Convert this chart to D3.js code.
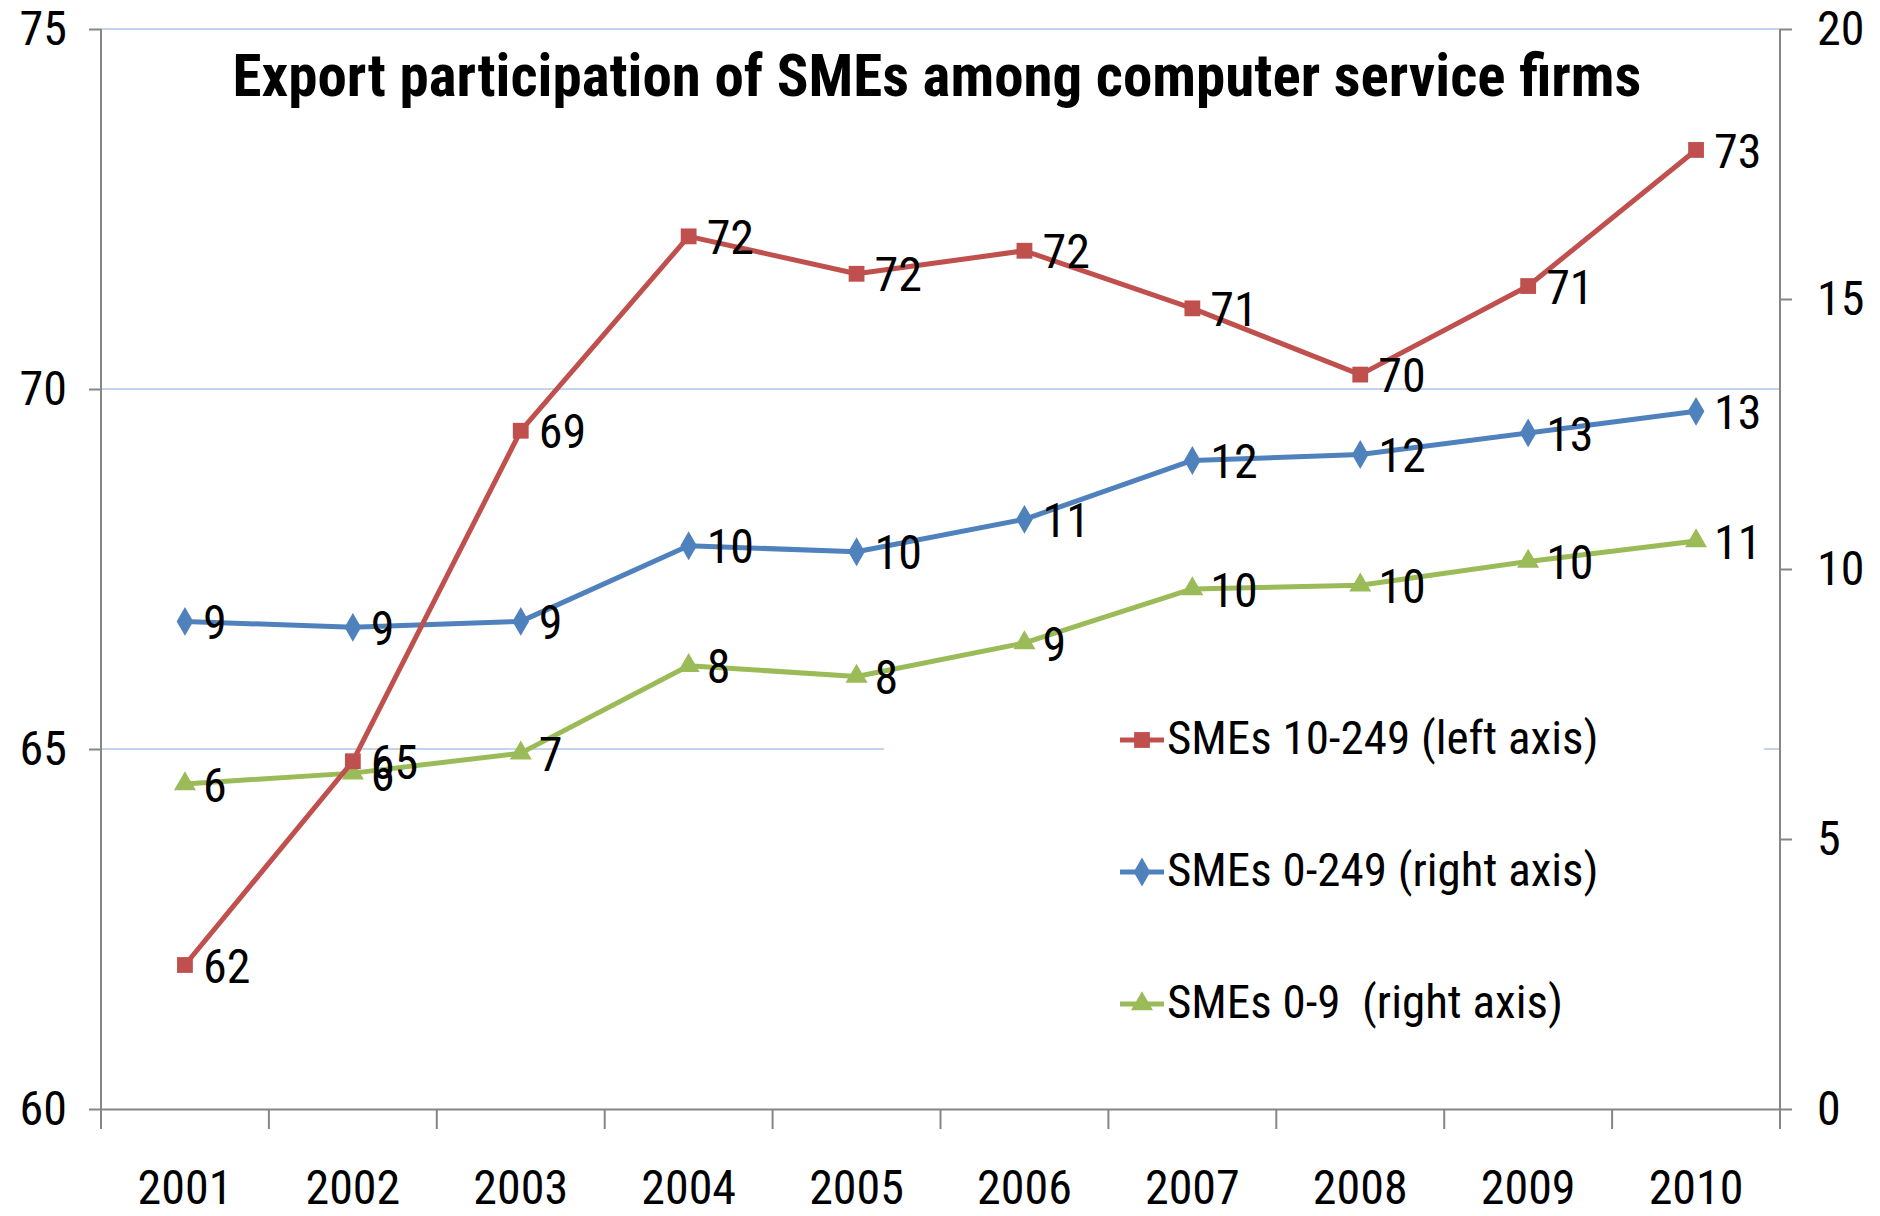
<!DOCTYPE html>
<html><head><meta charset="utf-8">
<script src="https://cdn.jsdelivr.net/npm/d3@7"></script>
<style>
html,body{margin:0;padding:0;background:#fff;}
text{font-family:"Liberation Sans Narrow","Arial Narrow","Roboto Condensed",sans-serif;}
</style></head>
<body>
<svg id="c" width="1880" height="1216"></svg>
<script>
const years = ["2001","2002","2003","2004","2005","2006","2007","2008","2009","2010"];
const sme10_249 = [62.0, 64.83, 69.42, 72.12, 71.6, 71.92, 71.12, 70.2, 71.43, 73.32];
const sme0_249 = [9.03, 8.92, 9.03, 10.43, 10.32, 10.92, 12.01, 12.12, 12.52, 12.92];
const sme0_9 = [6.02, 6.22, 6.59, 8.21, 8.01, 8.63, 9.63, 9.70, 10.14, 10.52];
const leftTicks = [60, 65, 70, 75];
const rightTicks = [0, 5, 10, 15, 20];
const seriesNames = ["SMEs 10-249 (left axis)", "SMEs 0-249 (right axis)", "SMEs 0-9  (right axis)"];
const title = "Export participation of SMEs among computer service firms";

const svg = d3.select("#c");
const L = 101, R = 1780, T = 29, B = 1109;
const x = d3.scaleBand().domain(years).range([L, R]);
const yL = d3.scaleLinear().domain([60, 75]).range([B, T]);
const yR = d3.scaleLinear().domain([0, 20]).range([B, T]);
const FS = 48;

// gridlines (left axis)
svg.append("g").selectAll("line").data(leftTicks.filter(d => d > 60)).join("line")
  .attr("x1", L).attr("x2", R).attr("y1", d => yL(d)).attr("y2", d => yL(d))
  .attr("stroke", "#c3d4ec").attr("stroke-width", 2);

// legend background (covers gridline)
svg.append("rect").attr("x", 884).attr("y", 680).attr("width", 880).attr("height", 400).attr("fill", "#fff");

// axes
const gL = svg.append("g").attr("transform", `translate(${L},0)`)
  .call(d3.axisLeft(yL).tickValues(leftTicks).tickSize(12).tickPadding(22).tickSizeOuter(0));
const gR = svg.append("g").attr("transform", `translate(${R},0)`)
  .call(d3.axisRight(yR).tickValues(rightTicks).tickSize(12).tickPadding(25).tickSizeOuter(0));
const gB = svg.append("g").attr("transform", `translate(0,${B})`)
  .call(d3.axisBottom(x).tickSize(0).tickSizeOuter(0));
gB.selectAll("text").attr("y", 78).attr("dy", "0.35em");
// category boundary ticks
const bounds = years.map(d => x(d)).concat([x.range()[1]]);
gB.append("g").selectAll("line").data(bounds).join("line")
  .attr("x1", d => d).attr("x2", d => d).attr("y1", 0).attr("y2", 20)
  .attr("stroke", "#868686").attr("stroke-width", 2);

[gL, gR, gB].forEach(g => {
  g.select(".domain").attr("stroke", "#868686").attr("stroke-width", 2);
  g.selectAll(".tick line").attr("stroke", "#868686").attr("stroke-width", 2);
  g.selectAll("text").attr("font-size", FS).attr("fill", "#000")
    .attr("font-family", '"Liberation Sans Narrow","Arial Narrow","Roboto Condensed",sans-serif');
});
gL.select(".domain").attr("d", `M0,${B}V${T}`);
gR.select(".domain").attr("d", `M0,${B}V${T}`);

// title
svg.append("text").attr("x", 937).attr("y", 80).attr("text-anchor", "middle")
  .attr("font-size", 59).attr("font-weight", "bold").attr("dominant-baseline", "middle")
  .text(title);

const cx = d => x(d) + x.bandwidth() / 2;
const series = [
  {name: seriesNames[0], values: sme10_249, y: yL, color: "#c0504d", marker: d3.symbolSquare, size: 250},
  {name: seriesNames[1], values: sme0_249, y: yR, color: "#4f81bd", marker: d3.symbolDiamond, size: 240},
  {name: seriesNames[2], values: sme0_9, y: yR, color: "#9bbb59", marker: d3.symbolTriangle, size: 210}
];
const drawOrder = [2, 1, 0];
const fmt = d3.format(".0f");

drawOrder.forEach(i => {
  const s = series[i];
  const line = d3.line().x((d, j) => cx(years[j])).y(d => s.y(d));
  svg.append("path").datum(s.values).attr("d", line).attr("fill", "none")
    .attr("stroke", s.color).attr("stroke-width", 5).attr("stroke-linejoin", "round");
  svg.append("g").selectAll("path").data(s.values).join("path")
    .attr("transform", (d, j) => `translate(${cx(years[j])},${s.y(d)})`)
    .attr("d", d3.symbol().type(s.marker).size(s.size)).attr("fill", s.color);
});
drawOrder.forEach(i => {
  const s = series[i];
  svg.append("g").selectAll("text").data(s.values).join("text")
    .attr("x", (d, j) => cx(years[j]) + 18).attr("y", d => s.y(d) + 5)
    .attr("dominant-baseline", "middle").attr("font-size", FS).attr("fill", "#000")
    .text(d => fmt(d));
});

// legend
const lg = svg.append("g");
series.forEach((s, i) => {
  const ly = 740 + i * 132;
  lg.append("line").attr("x1", 1120).attr("x2", 1164).attr("y1", ly).attr("y2", ly)
    .attr("stroke", s.color).attr("stroke-width", 5);
  lg.append("path").attr("transform", `translate(1142,${ly})`)
    .attr("d", d3.symbol().type(s.marker).size(s.size)).attr("fill", s.color);
  lg.append("text").attr("x", 1167).attr("y", ly + 2).attr("dominant-baseline", "middle")
    .attr("font-size", 47).attr("fill", "#000").text(s.name).style("white-space", "pre");
});
</script>
</body></html>
